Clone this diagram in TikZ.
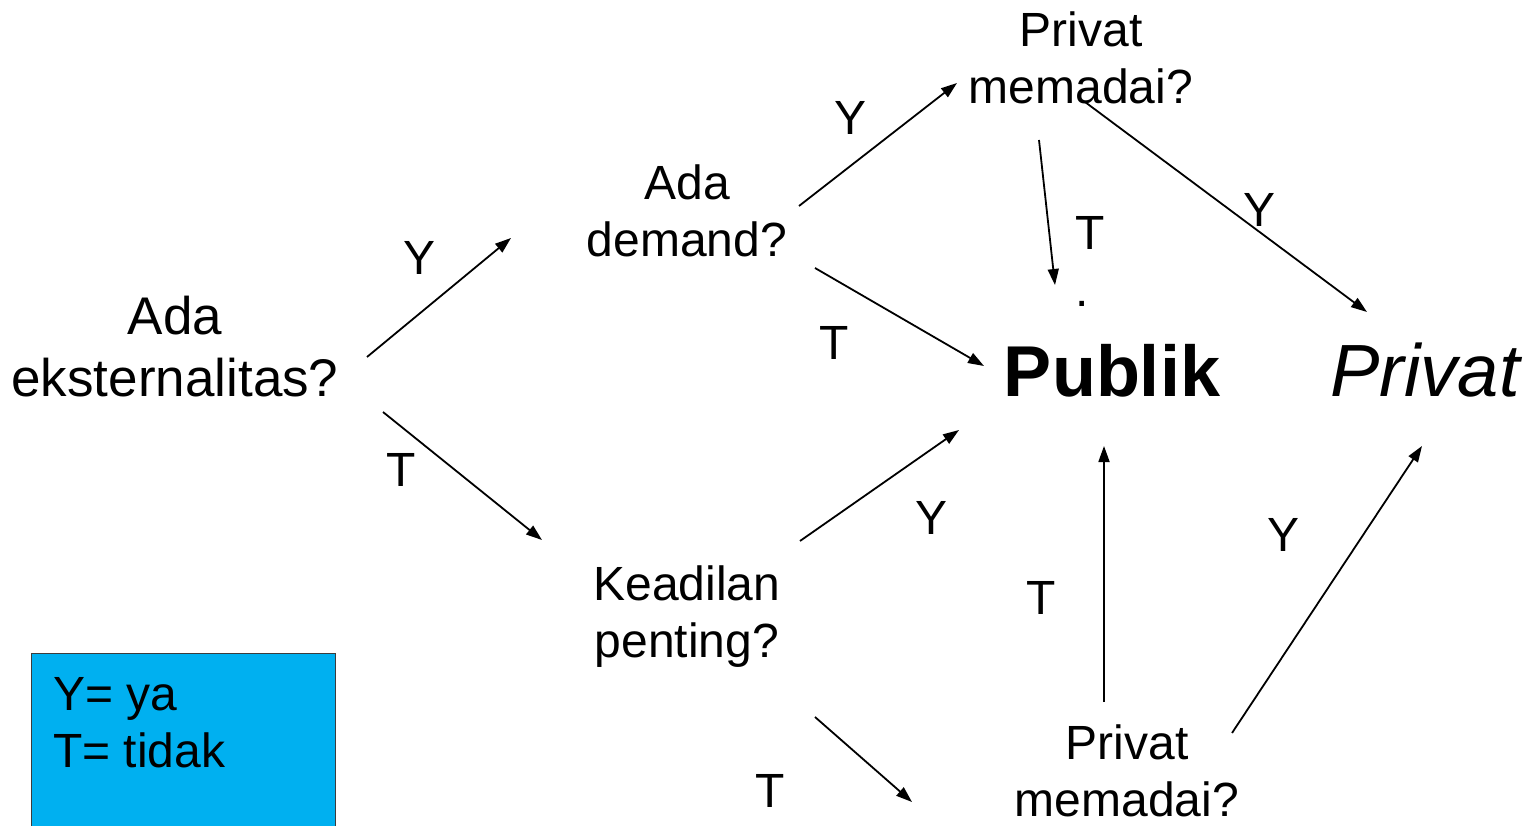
\documentclass[tikz,border=0pt]{standalone}
\usepackage{fontspec}
\setmainfont{Liberation Sans}
\usetikzlibrary{arrows.meta}
\definecolor{legendblue}{RGB}{0,176,240}
\definecolor{legendedge}{RGB}{60,60,60}
\begin{document}
\begin{tikzpicture}[x=1pt,y=-1pt,
  txt/.style={font=\fontsize{48}{57}\selectfont, align=center, inner sep=0pt, anchor=north},
  lbl/.style={font=\fontsize{48}{57}\selectfont, inner sep=0pt},
  big/.style={font=\fontsize{72}{80}\selectfont, inner sep=0pt, anchor=base},
  conn/.style={line width=1.8pt, -{Triangle[length=16pt,width=11pt]}},
  legendbox/.style={draw=legendedge, line width=1.2pt, fill=legendblue, anchor=north west, minimum width=304pt, minimum height=200pt, inner sep=0pt}
  ]
\useasboundingbox (0,0) rectangle (1527,826);
% legend
\node[legendbox] (legend) at (31,653) {};
\node[txt, anchor=north west, align=left] (legendtext) at (53,677) {Y= ya\\T= tidak};
% decision nodes
\node[txt, font=\fontsize{53}{62}\selectfont] (ext) at (175,296) {Ada\\eksternalitas?};
\node[txt] (demand) at (687,165) {Ada\\demand?};
\node[txt] (privtop) at (1081,12) {Privat\\memadai?};
\node[txt] (adil) at (687,566) {Keadilan\\penting?};
\node[txt] (privbot) at (1127,725) {Privat\\memadai?};
\node[big, font=\fontsize{72}{80}\selectfont\bfseries] (publik) at (1112,397) {Publik};
\node[big, font=\fontsize{74}{80}\selectfont\itshape] (privat) at (1425,397) {Privat};
\node[lbl, anchor=base] (dot) at (1082,307) {.};
% connector end points
\coordinate (a1) at (367,357); \coordinate (a2) at (511,238);
\coordinate (b1) at (383,412); \coordinate (b2) at (542,540);
\coordinate (c1) at (799,206); \coordinate (c2) at (957,83);
\coordinate (d1) at (815,268); \coordinate (d2) at (984,366);
\coordinate (e1) at (1039,140); \coordinate (e2) at (1055,285);
\coordinate (f1) at (1085,102); \coordinate (f2) at (1367,312);
\coordinate (g1) at (800,541); \coordinate (g2) at (959,430);
\coordinate (h1) at (815,717); \coordinate (h2) at (912,802);
\coordinate (i1) at (1104,702); \coordinate (i2) at (1104,446);
\coordinate (j1) at (1232,733); \coordinate (j2) at (1422,446);
% connectors
\draw[conn] (a1) -- (a2);
\draw[conn] (b1) -- (b2);
\draw[conn] (c1) -- (c2);
\draw[conn] (d1) -- (d2);
\draw[conn] (e1) -- (e2);
\draw[conn] (f1) -- (f2);
\draw[conn] (g1) -- (g2);
\draw[conn] (h1) -- (h2);
\draw[conn] (i1) -- (i2);
\draw[conn] (j1) -- (j2);
% labels
\node[lbl] (ly1) at (420,258) {Y};
\node[lbl] (lt1) at (401,470) {T};
\node[lbl] (ly2) at (851,118) {Y};
\node[lbl] (lt2) at (834,343) {T};
\node[lbl] (lt3) at (1090,233) {T};
\node[lbl] (ly3) at (1259,210) {Y};
\node[lbl] (ly4) at (931,518) {Y};
\node[lbl] (lt4) at (770,791) {T};
\node[lbl] (lt5) at (1041,598) {T};
\node[lbl] (ly5) at (1283,535) {Y};
\end{tikzpicture}
\end{document}
